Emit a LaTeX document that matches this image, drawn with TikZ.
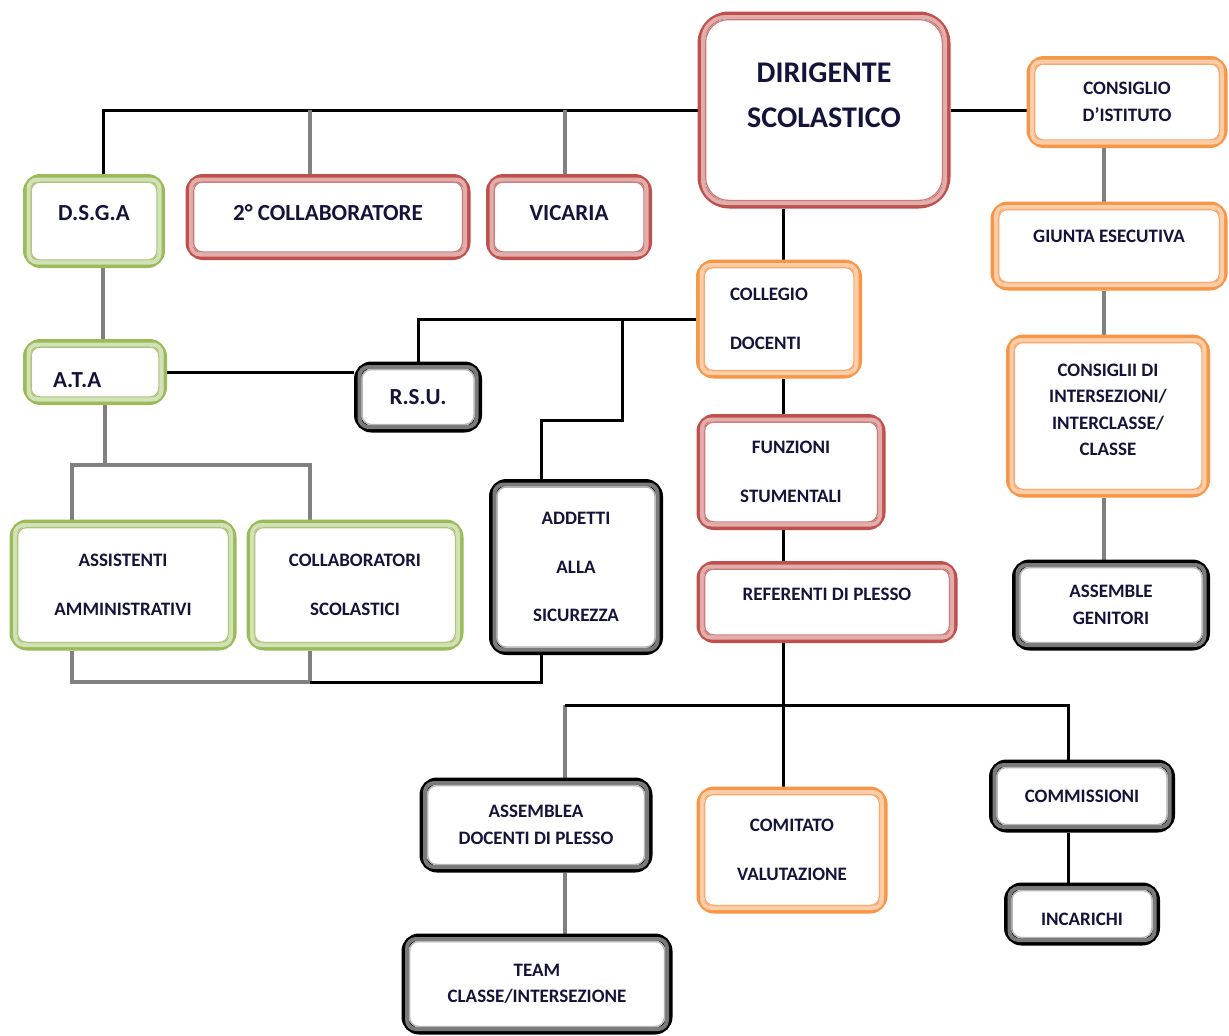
\documentclass[tikz,border=0pt]{standalone}
\usepackage{fontspec}
\setmainfont{Carlito}
\pgfdeclarelayer{bg}
\pgfsetlayers{bg,main}
\definecolor{redO}{HTML}{C0504D}\definecolor{redL}{HTML}{E2AEAC}\definecolor{redM}{HTML}{CC7D7A}
\definecolor{greenO}{HTML}{9BBB59}\definecolor{greenL}{HTML}{D3E1B8}\definecolor{greenM}{HTML}{ADC67C}
\definecolor{orO}{HTML}{F79646}\definecolor{orL}{HTML}{FBCDA8}\definecolor{orM}{HTML}{F9A96E}
\definecolor{blkO}{HTML}{000000}\definecolor{blkL}{HTML}{7A7A7A}\definecolor{blkM}{HTML}{B5B5B5}
\definecolor{txt}{HTML}{14143A}
\definecolor{lineG}{HTML}{808080}
\tikzset{
  box/.style={rectangle, line width=7pt, rounded corners=14pt, fill=white, inner sep=0pt, align=center, text=txt, font=\smallf},
  rbox/.style={box, draw=redO},
  gbox/.style={box, draw=greenO},
  obox/.style={box, draw=orO},
  kbox/.style={box, draw=blkO},
  band/.style={line width=4pt},
  thinl/.style={line width=1.3pt},
  conn/.style={draw=black, line width=3pt},
  connG/.style={draw=lineG, line width=3.5pt},
}
\newcommand\smallf{\bfseries\fontsize{19}{26.5}\selectfont}
\newcommand\medf{\bfseries\fontsize{23}{28}\selectfont}
\newcommand\bigf{\bfseries\fontsize{30}{45}\selectfont}
\begin{document}
\begin{tikzpicture}[x=1pt,y=-1pt]
\begin{pgfonlayer}{bg}
\path[use as bounding box, fill=white] (0,0) rectangle (1229,1036);
\end{pgfonlayer}
% nodes
\node[rbox, rounded corners=28pt, minimum width=246pt, minimum height=190pt, font=\bigf, text depth=29pt] (dir) at (824,110) {DIRIGENTE\\SCOLASTICO};
\node[obox, minimum width=194pt, minimum height=85pt] (cons) at (1127,102) {CONSIGLIO\\D’ISTITUTO};
\node[obox, minimum width=230pt, minimum height=82pt, text depth=20pt] (giunta) at (1109,246) {GIUNTA ESECUTIVA};
\node[obox, minimum width=197pt, minimum height=156pt, text depth=12pt] (consigli) at (1108,416) {CONSIGLII DI\\INTERSEZIONI/\\INTERCLASSE/\\CLASSE};
\node[kbox, minimum width=191pt, minimum height=84pt] (asgen) at (1111,605) {ASSEMBLE\\GENITORI};
\node[gbox, minimum width=135pt, minimum height=87pt, font=\medf, text depth=16pt] (dsga) at (94,221) {D.S.G.A};
\node[rbox, minimum width=278pt, minimum height=79pt, font=\medf, text depth=8pt] (coll2) at (328,217) {2° COLLABORATORE};
\node[rbox, minimum width=159pt, minimum height=79pt, font=\medf, text depth=8pt] (vic) at (569,217) {VICARIA};
\node[obox, minimum width=159pt, minimum height=112pt, text width=98pt, align=left] (collegio) at (779,319) {COLLEGIO\\[22pt]DOCENTI};
\node[gbox, minimum width=137pt, minimum height=59pt, font=\medf, text width=84pt, align=left, text height=31pt] (ata) at (95,372) {A.T.A};
\node[kbox, minimum width=121pt, minimum height=64pt, font=\medf] (rsu) at (418,397) {R.S.U.};
\node[rbox, minimum width=182pt, minimum height=109pt] (funz) at (791,472) {FUNZIONI\\[22pt]STUMENTALI};
\node[rbox, minimum width=254pt, minimum height=75pt, text depth=16pt] (ref) at (827,602) {REFERENTI DI PLESSO};
\node[kbox, minimum width=167pt, minimum height=169pt] (addetti) at (576,567) {ADDETTI\\[22pt]ALLA\\[22pt]SICUREZZA};
\node[gbox, minimum width=220pt, minimum height=124pt] (assist) at (123,585) {ASSISTENTI\\[22pt]AMMINISTRATIVI};
\node[gbox, minimum width=210pt, minimum height=124pt] (collab) at (355,585) {COLLABORATORI\\[22pt]SCOLASTICI};
\node[kbox, minimum width=226pt, minimum height=88pt] (assemblea) at (536,825) {ASSEMBLEA\\DOCENTI DI PLESSO};
\node[obox, minimum width=184pt, minimum height=120pt] (comitato) at (792,850) {COMITATO\\[22pt]VALUTAZIONE};
\node[kbox, minimum width=179pt, minimum height=66pt] (commiss) at (1082,796) {COMMISSIONI};
\node[kbox, minimum width=149pt, minimum height=56pt, text height=24pt] (incarichi) at (1082,914) {INCARICHI};
\node[kbox, minimum width=264pt, minimum height=94pt] (team) at (537,984) {TEAM\\CLASSE/INTERSEZIONE};
% inner frame lines
\foreach \n/\col/\rad in {dir/red/23, cons/or/9, giunta/or/9, consigli/or/9, asgen/blk/9, dsga/green/9, coll2/red/9, vic/red/9, collegio/or/9, ata/green/9, rsu/blk/9, funz/red/9, ref/red/9, addetti/blk/9, assist/green/9, collab/green/9, assemblea/blk/9, comitato/or/9, commiss/blk/9, incarichi/blk/9, team/blk/9}{
  \draw[band, draw=\col L, rounded corners=\rad pt] ([shift={(5.5pt,5.5pt)}]\n.south west) rectangle ([shift={(-5.5pt,-5.5pt)}]\n.north east);
  \draw[thinl, draw=\col M, rounded corners=\rad pt] ([shift={(8.1pt,8.1pt)}]\n.south west) rectangle ([shift={(-8.1pt,-8.1pt)}]\n.north east);
}
% helper coordinates
\coordinate (spine) at (783,0);
\coordinate (rsp) at (1104,0);
\coordinate (b1) at (622,420);
\coordinate (j1) at (105,465);
\coordinate (j2) at (541,682);
\coordinate (j3) at (783,705);
\coordinate (dsgaN) at ([xshift=9pt]dsga.north);
\coordinate (dsgaS) at ([xshift=9pt]dsga.south);
\coordinate (coll2N) at ([xshift=-18pt]coll2.north);
\coordinate (vicN) at ([xshift=-4pt]vic.north);
\coordinate (ataS) at ([xshift=10pt]ata.south);
\coordinate (assistN) at ([xshift=-51pt]assist.north);
\coordinate (assistS) at ([xshift=-51pt]assist.south);
\coordinate (collabN) at ([xshift=-45pt]collab.north);
\coordinate (collabS) at ([xshift=-45pt]collab.south);
\coordinate (addN) at ([xshift=-35pt]addetti.north);
\coordinate (addS) at ([xshift=-35pt]addetti.south);
\coordinate (asmN) at ([xshift=29pt]assemblea.north);
\coordinate (asmS) at ([xshift=29pt]assemblea.south);
\coordinate (comN) at ([xshift=-14pt]commiss.north);
\coordinate (comS) at ([xshift=-14pt]commiss.south);
\begin{pgfonlayer}{bg}
\draw[conn] (dir.west) -| (dsgaN);
\draw[connG] (coll2N) -- (coll2N |- dir.west);
\draw[connG] (vicN) -- (vicN |- dir.west);
\draw[conn] (dir.east) -- (dir.east -| cons.west);
\draw[conn] (spine |- dir.south) -- (spine |- collegio.north);
\draw[conn] (spine |- collegio.south) -- (spine |- funz.north);
\draw[conn] (spine |- funz.south) -- (spine |- ref.north);
\draw[conn] (spine |- ref.south) -- (j3);
\draw[connG] (rsp |- cons.south) -- (rsp |- giunta.north);
\draw[connG] (rsp |- giunta.south) -- (rsp |- consigli.north);
\draw[connG] (rsp |- consigli.south) -- (rsp |- asgen.north);
\draw[connG] (dsgaS) -- (dsgaS |- ata.north);
\draw[conn] (ata.east) -- (ata.east -| rsu.west);
\draw[conn] (collegio.west) -| (rsu.north);
\draw[conn] (b1 |- collegio.west) -- (b1) -| (addN);
\draw[connG] (ataS) -- (j1);
\draw[connG] (assistN) |- (j1) -| (collabN);
\draw[connG] (assistS) |- (collabS |- j2) -- (collabS);
\draw[conn] (collabS |- j2) -- (j2) -- (addS);
\draw[connG] (asmN) -- (asmN |- j3);
\draw[conn] (asmN |- j3) -- (j3) -| (comN);
\draw[conn] (j3) -- (j3 |- comitato.north);
\draw[conn] (comS) -- (comS |- incarichi.north);
\draw[connG] (asmS) -- (asmS |- team.north);
\end{pgfonlayer}
\end{tikzpicture}
\end{document}
